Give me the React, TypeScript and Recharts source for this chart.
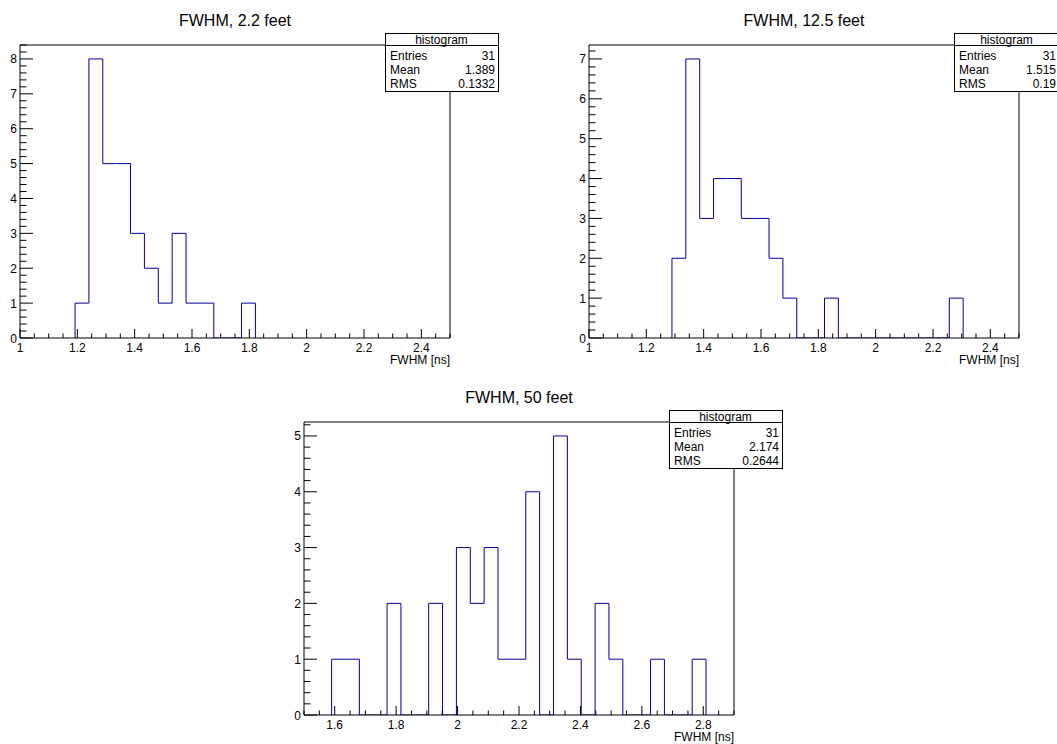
import { Line, LineChart, ReferenceLine, XAxis, YAxis } from "recharts";

const FONT = "'Liberation Sans', Arial, Helvetica, sans-serif";
const HIST_BLUE = "#000099";

// FWHM, 2.2 feet
const NEAR_LOW = 1.192;
const NEAR_BIN = 0.0484;
const NEAR_COUNTS = [1, 8, 5, 5, 3, 2, 1, 3, 1, 1, 0, 0, 1];
const NEAR_STATS = ["31", "1.389", "0.1332"];

// FWHM, 12.5 feet
const MID_LOW = 1.2894;
const MID_BIN = 0.04837;
const MID_COUNTS = [2, 7, 3, 4, 4, 3, 3, 2, 1, 0, 0, 1, 0, 0, 0, 0, 0, 0, 0, 0, 1];
const MID_STATS = ["31", "1.515", "0.19"];

// FWHM, 50 feet
const FAR_LOW = 1.5899;
const FAR_BIN = 0.04515;
const FAR_COUNTS = [1, 1, 0, 0, 2, 0, 0, 2, 0, 3, 2, 3, 1, 1, 4, 0, 5, 1, 0, 2, 1, 0, 0, 1, 0, 0, 1];
const FAR_STATS = ["31", "2.174", "0.2644"];

const STAT_LABELS = ["Entries", "Mean", "RMS"];

const X_MAJOR_SHORT = [1, 1.2, 1.4, 1.6, 1.8, 2, 2.2, 2.4];
const X_MAJOR_LONG = [1.6, 1.8, 2, 2.2, 2.4, 2.6, 2.8];
const Y_MAJOR_NEAR = [0, 1, 2, 3, 4, 5, 6, 7, 8];
const Y_MAJOR_MID = [0, 1, 2, 3, 4, 5, 6, 7];
const Y_MAJOR_FAR = [0, 1, 2, 3, 4, 5];

// layout of one pad (local coordinates)
const CHART_W = 528;
const CHART_H = 372;
const PLOT_L = 20;
const PLOT_R = 450;
const PLOT_T = 45;
const PLOT_B = 338;

function steps(min: number, max: number, step: number) {
  const out: number[] = [];
  for (let i = 0; min + i * step <= max + 1e-9; i++) {
    out.push(Math.round((min + i * step) * 10000) / 10000);
  }
  return out;
}

function stepPoints(low: number, bin: number, counts: number[]) {
  const pts = [{ x: low, y: 0 }];
  counts.forEach((c, i) => pts.push({ x: low + i * bin, y: c }));
  pts.push({ x: low + counts.length * bin, y: 0 });
  return pts;
}

const isMajor = (v: number, majors: number[]) => majors.some((m) => Math.abs(m - v) < 1e-6);

function XTick(props: any) {
  const { x, y, payload, majors } = props;
  const major = isMajor(payload.value, majors);
  return (
    <g>
      <line x1={x} x2={x} y1={y} y2={y - (major ? 9 : 4.5)} stroke="#000" />
      {major && (
        <text x={x} y={y + 14} textAnchor="middle" fontSize={12} fill="#000">
          {payload.value}
        </text>
      )}
    </g>
  );
}

function YTick(props: any) {
  const { x, y, payload, majors } = props;
  const major = isMajor(payload.value, majors);
  return (
    <g>
      <line x1={x} x2={x + (major ? 13 : 6.5)} y1={y} y2={y} stroke="#000" />
      {major && (
        <text x={x - 3} y={y + 4.5} textAnchor="end" fontSize={12} fill="#000">
          {payload.value}
        </text>
      )}
    </g>
  );
}

type PanelProps = {
  left: number;
  top: number;
  title: string;
  low: number;
  bin: number;
  counts: number[];
  xDomain: [number, number];
  yMax: number;
  xMajor: number[];
  yMajor: number[];
  stats: string[];
  statWidth: number;
};

function Panel(p: PanelProps) {
  const data = stepPoints(p.low, p.bin, p.counts);
  const xTicks = steps(p.xDomain[0], p.xDomain[1], 0.05);
  const yTicks = steps(0, p.yMax, 0.2);
  const boxX = PLOT_R - 65;
  const boxY = PLOT_T - 12;
  return (
    <div style={{ position: "absolute", left: p.left, top: p.top, width: CHART_W, height: CHART_H }}>
      <LineChart
        width={CHART_W}
        height={CHART_H}
        data={data}
        margin={{ top: PLOT_T, right: CHART_W - PLOT_R, bottom: 4, left: 0 }}
      >
        <XAxis
          dataKey="x"
          type="number"
          domain={p.xDomain}
          ticks={xTicks}
          interval={0}
          height={30}
          tickSize={0}
          tickMargin={0}
          tickLine={false}
          allowDataOverflow
          axisLine={{ stroke: "#000" }}
          tick={(t: any) => <XTick {...t} majors={p.xMajor} />}
        />
        <YAxis
          type="number"
          domain={[0, p.yMax]}
          ticks={yTicks}
          interval={0}
          width={PLOT_L}
          tickSize={0}
          tickMargin={0}
          tickLine={false}
          allowDataOverflow
          axisLine={{ stroke: "#000" }}
          tick={(t: any) => <YTick {...t} majors={p.yMajor} />}
        />
        <ReferenceLine x={p.xDomain[1]} stroke="#000" ifOverflow="visible" />
        <ReferenceLine y={p.yMax} stroke="#000" ifOverflow="visible" />
        <Line
          type="stepAfter"
          dataKey="y"
          stroke={HIST_BLUE}
          strokeWidth={1}
          dot={false}
          activeDot={false}
          isAnimationActive={false}
        />
      </LineChart>
      <svg
        width={CHART_W}
        height={CHART_H}
        style={{ position: "absolute", left: 0, top: 0, pointerEvents: "none", overflow: "visible" }}
      >
        <text x={(PLOT_L + PLOT_R) / 2} y={PLOT_T - 19} textAnchor="middle" fontSize={16} fill="#000">
          {p.title}
        </text>
        <text x={PLOT_R} y={PLOT_B + 25.5} textAnchor="end" fontSize={12} fill="#000">
          FWHM [ns]
        </text>
        <rect x={boxX + 0.5} y={boxY + 0.5} width={p.statWidth} height={58} fill="#fff" stroke="#000" />
        <line x1={boxX} x2={boxX + p.statWidth} y1={boxY + 12.5} y2={boxY + 12.5} stroke="#000" />
        <text x={boxX + p.statWidth / 2} y={boxY + 11} textAnchor="middle" fontSize={12} fill="#000">
          histogram
        </text>
        {STAT_LABELS.map((label, i) => (
          <g key={label}>
            <text x={boxX + 5} y={boxY + 26.8 + i * 14.3} fontSize={12} fill="#000">
              {label}
            </text>
            <text x={boxX + p.statWidth - 3} y={boxY + 26.8 + i * 14.3} textAnchor="end" fontSize={12} fill="#000">
              {p.stats[i]}
            </text>
          </g>
        ))}
      </svg>
    </div>
  );
}

export default function App() {
  return (
    <div
      style={{
        position: "fixed",
        left: 0,
        top: 0,
        width: 1057,
        height: 744,
        overflow: "hidden",
        background: "#fff",
        fontFamily: FONT,
      }}
    >
      <Panel
        left={0}
        top={0}
        title="FWHM, 2.2 feet"
        low={NEAR_LOW}
        bin={NEAR_BIN}
        counts={NEAR_COUNTS}
        xDomain={[1, 2.5]}
        yMax={8.4}
        xMajor={X_MAJOR_SHORT}
        yMajor={Y_MAJOR_NEAR}
        stats={NEAR_STATS}
        statWidth={113}
      />
      <Panel
        left={569}
        top={0}
        title="FWHM, 12.5 feet"
        low={MID_LOW}
        bin={MID_BIN}
        counts={MID_COUNTS}
        xDomain={[1, 2.5]}
        yMax={7.35}
        xMajor={X_MAJOR_SHORT}
        yMajor={Y_MAJOR_MID}
        stats={MID_STATS}
        statWidth={105}
      />
      <Panel
        left={284}
        top={377}
        title="FWHM, 50 feet"
        low={FAR_LOW}
        bin={FAR_BIN}
        counts={FAR_COUNTS}
        xDomain={[1.5, 2.9]}
        yMax={5.25}
        xMajor={X_MAJOR_LONG}
        yMajor={Y_MAJOR_FAR}
        stats={FAR_STATS}
        statWidth={113}
      />
    </div>
  );
}
